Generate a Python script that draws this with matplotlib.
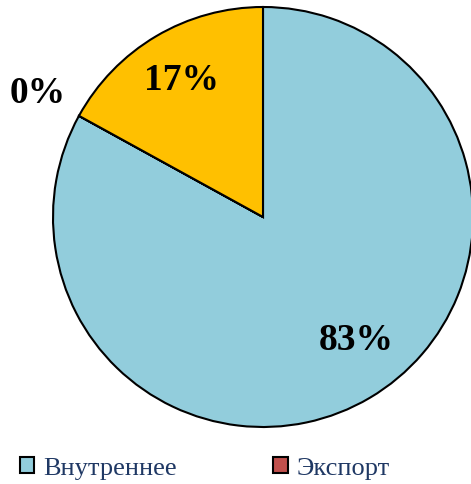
import matplotlib
matplotlib.use("Agg")
import matplotlib.pyplot as plt
from matplotlib.patches import Patch

categories = ["Внутреннее", "Экспорт", ""]
values = [83, 0.0001, 17]
labels = ["83%", "0%", "17%"]
colors = ["#92CDDC", "#C0504D", "#FFC000"]

plt.rcParams['font.family'] = ['Liberation Serif', 'DejaVu Serif']

fig = plt.figure(figsize=(4.71, 4.85), dpi=100)
ax = fig.add_axes([53/471, 57/485, 420/471, 420/485])
wedges, _ = ax.pie(values, colors=colors, startangle=90, counterclock=False,
                   radius=1, wedgeprops=dict(edgecolor="black", linewidth=1.5))
for w in wedges:
    w.set_clip_on(False)
ax.set_xlim(-1, 1)
ax.set_ylim(-1, 1)
ax.set_aspect("equal")
ax.axis("off")

label_pos = [(0.443, -0.581), (-1.071, 0.595), (-0.39, 0.657)]
for (x, y), t in zip(label_pos, labels):
    ax.text(x, y, t, ha="center", va="center", fontsize=27, fontweight="bold", color="black")

handles = [Patch(facecolor=colors[i], edgecolor="black", linewidth=1.5) for i in range(2)]
fig.legend(handles, categories[:2], loc="center", bbox_to_anchor=(0.435, 1 - 469/485), ncol=2,
           frameon=False, fontsize=19, labelcolor="#1F3864", columnspacing=3.64,
           handlelength=0.55, handleheight=0.55, handletextpad=0.35)

fig.savefig("out.png", dpi=100)
